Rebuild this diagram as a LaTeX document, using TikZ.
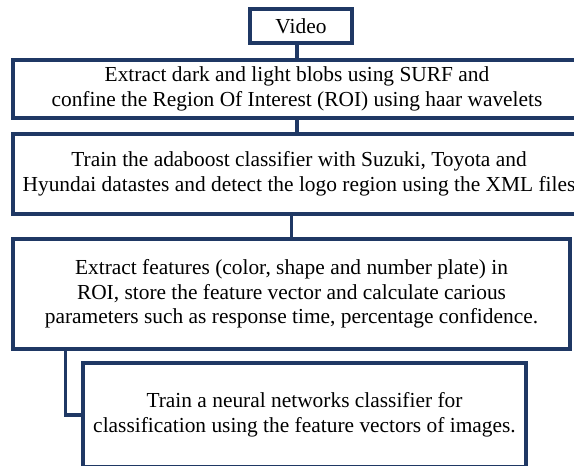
\documentclass[tikz,border=0pt]{standalone}
\usepackage{fontspec}
\setmainfont{Liberation Serif}
\usepackage{tikz}
\definecolor{boxblue}{RGB}{31,56,100}
\tikzset{
	stage/.style={draw=boxblue, line width=3.2pt, align=center, inner sep=0pt, font=\fontsize{21.4}{24.5}\selectfont},
	link/.style={draw=boxblue, line width=3.2pt}
}

\begin{document}
\begin{tikzpicture}[x=1pt,y=-1pt]
	\useasboundingbox (0,0) rectangle (574,466);
	\clip (0,0) rectangle (574,466);
	\node [stage, minimum width=102pt, minimum height=34pt] (video) at (301,26) {Video};
	\node [stage, minimum width=568pt, minimum height=58pt] (extract) at (297,89) {Extract dark and light blobs using SURF and\\confine the Region Of Interest (ROI) using haar wavelets};
	\node [stage, minimum width=572pt, minimum height=80pt] (train) at (299,174) {Train the adaboost classifier with Suzuki, Toyota and\\Hyundai datastes and detect the logo region using the XML files};
	\node [stage, minimum width=557pt, minimum height=110pt] (features) at (291.5,294) {Extract features (color, shape and number plate) in\\ROI, store the feature vector and calculate carious\\parameters such as response time, percentage confidence.};
	\node [stage, minimum width=443pt, minimum height=104pt] (neural) at (304.5,415) {Train a neural networks classifier for\\classification using the feature vectors of images.};
	% connectors
	\draw [link] (extract.north) -- (extract.north |- video.south);
	\draw [link] (extract.south) -- (extract.south |- train.north);
	\draw [link] (features.north) -- (features.north |- train.south);
	\draw [link] ([xshift=54pt]features.south west) |- (neural.west);
\end{tikzpicture}
\end{document}
